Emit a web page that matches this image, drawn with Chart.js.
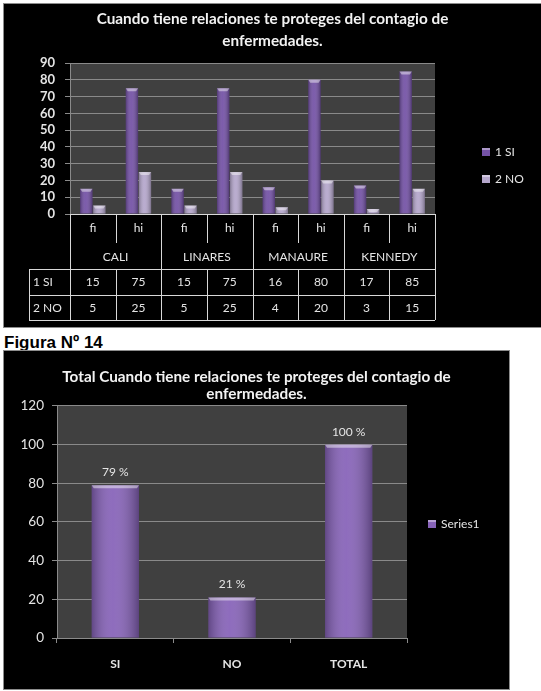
<!DOCTYPE html>
<html>
<head>
<meta charset="utf-8">
<script src="https://cdn.jsdelivr.net/npm/chart.js@4.4.0/dist/chart.umd.min.js"></script>
<style>
  body { margin: 0; background: #fff; width: 541px; height: 691px; position: relative; overflow: hidden; }
  .box { position: absolute; background: #000; border: 1px solid #8c8c8c; }
  #box1 { left: 3px; top: 3px; width: 537px; height: 323px; }
  #box2 { left: 3px; top: 350px; width: 505px; height: 338px; }
  canvas { display: block; }
  #fig { position: absolute; left: 4px; top: 334px; font: bold 17px/17px "Liberation Sans", Arial, sans-serif; color: #000; }
</style>
</head>
<body>
<div class="box" id="box1"><canvas id="chart1" width="537" height="323"></canvas></div>
<div id="fig">Figura Nº 14</div>
<div class="box" id="box2"><canvas id="chart2" width="505" height="338"></canvas></div>
<script>
// top chart: fi / hi per place
const groups = ['CALI', 'LINARES', 'MANAURE', 'KENNEDY'];
const measures = ['fi', 'hi'];
const siValues = [15, 75, 15, 75, 16, 80, 17, 85];
const noValues = [5, 25, 5, 25, 4, 20, 3, 15];
const seriesNames = ['1 SI', '2 NO'];

// bottom chart: totals
const totalLabels = ['SI', 'NO', 'TOTAL'];
const totalValues = [79, 21, 100];
const totalSeries = 'Series1';

const FONT = 'Lato, "Open Sans", sans-serif';
const TEXT = '#e4e4e4';
const GRID = '#8a8a8a';

// dark gray plot background
const plotBg = {
    id: 'plotBg',
    beforeDraw(chart) {
        const { ctx, chartArea: a } = chart;
        ctx.save();
        ctx.fillStyle = '#404040';
        ctx.fillRect(a.left, a.top, a.right - a.left, a.bottom - a.top);
        ctx.restore();
    }
};

// shading + light cap on each bar, like the office 3d look
const barShade = {
    id: 'barShade',
    afterDatasetsDraw(chart) {
        const ctx = chart.ctx;
        chart.data.datasets.forEach((ds, i) => {
            chart.getDatasetMeta(i).data.forEach(el => {
                const { x, y, base, width } = el.getProps(['x', 'y', 'base', 'width'], true);
                const l = x - width / 2;
                const g = ctx.createLinearGradient(l, 0, l + width, 0);
                g.addColorStop(0, 'rgba(0,0,0,0.28)');
                g.addColorStop(0.45, 'rgba(255,255,255,0.06)');
                g.addColorStop(1, 'rgba(0,0,0,0.32)');
                ctx.save();
                ctx.fillStyle = g;
                ctx.fillRect(l, y, width, base - y);
                ctx.fillStyle = 'rgba(255,255,255,0.45)';
                ctx.beginPath();
                ctx.moveTo(l, y);
                ctx.lineTo(l + width, y);
                ctx.lineTo(l + width - 2, y + 3);
                ctx.lineTo(l + 2, y + 3);
                ctx.closePath();
                ctx.fill();
                ctx.restore();
            });
        });
    }
};

function hline(ctx, x1, x2, y) {
    ctx.beginPath();
    ctx.moveTo(x1, Math.round(y) + 0.5);
    ctx.lineTo(x2, Math.round(y) + 0.5);
    ctx.stroke();
}
function vline(ctx, x, y1, y2) {
    ctx.beginPath();
    ctx.moveTo(Math.round(x) + 0.5, y1);
    ctx.lineTo(Math.round(x) + 0.5, y2);
    ctx.stroke();
}

// data table under the top chart
const dataTable = {
    id: 'dataTable',
    afterDraw(chart) {
        const { ctx, chartArea: a, scales: { x } } = chart;
        const n = siValues.length;
        const colW = x.getPixelForValue(1) - x.getPixelForValue(0);
        const edge = i => x.getPixelForValue(i) - colW / 2;
        const b = a.bottom;
        const r0 = b + 55, r1 = b + 81, r2 = b + 106;
        const left = 25;

        ctx.save();
        ctx.strokeStyle = '#d8d8d8';
        ctx.lineWidth = 1;
        hline(ctx, edge(0), edge(n), b);
        for (let i = 0; i <= n; i++) {
            if (i % measures.length === 0) {
                vline(ctx, edge(i), b, r2);
            } else {
                vline(ctx, edge(i), b, b + 29);
                vline(ctx, edge(i), r0, r2);
            }
        }
        [r0, r1, r2].forEach(y => hline(ctx, left, edge(n), y));
        vline(ctx, left, r0, r2);

        ctx.fillStyle = TEXT;
        ctx.font = '12px ' + FONT;
        ctx.textBaseline = 'middle';
        ctx.textAlign = 'center';
        for (let i = 0; i < n; i++) {
            const cx = x.getPixelForValue(i);
            ctx.fillText(measures[i % measures.length], cx, b + 14);
            ctx.fillText(String(siValues[i]), cx, b + 68);
            ctx.fillText(String(noValues[i]), cx, b + 94);
        }
        groups.forEach((g, j) => {
            const cx = (edge(j * 2) + edge(j * 2 + 2)) / 2;
            ctx.fillText(g, cx, b + 43);
        });
        ctx.textAlign = 'left';
        ctx.fillText(seriesNames[0], left + 4, b + 68);
        ctx.fillText(seriesNames[1], left + 4, b + 94);
        ctx.restore();
    }
};

// small legend on the right
function sideLegend(dx, yc, gap) {
    return {
        id: 'sideLegend',
        afterDraw(chart) {
            const { ctx, chartArea: a } = chart;
            ctx.save();
            ctx.font = '12px ' + FONT;
            ctx.textBaseline = 'middle';
            ctx.textAlign = 'left';
            chart.data.datasets.forEach((ds, i) => {
                const y = yc + i * gap;
                ctx.fillStyle = ds.backgroundColor;
                ctx.fillRect(a.right + dx, y - 4, 8, 8);
                ctx.fillStyle = 'rgba(255,255,255,0.4)';
                ctx.fillRect(a.right + dx, y - 4, 8, 2);
                ctx.fillStyle = TEXT;
                ctx.fillText(ds.label, a.right + dx + 13, y);
            });
            ctx.restore();
        }
    };
}

// empty right-hand scale that keeps room for the legend
function spacer(w) {
    return {
        position: 'right',
        ticks: { display: false },
        grid: { display: false },
        border: { display: false },
        afterFit(s) { s.width = w; }
    };
}

new Chart(document.getElementById('chart1'), {
    type: 'bar',
    data: {
        labels: groups.flatMap(g => measures.map(m => g + ' ' + m)),
        datasets: [
            { label: seriesNames[0], data: siValues, backgroundColor: '#7452a6' },
            { label: seriesNames[1], data: noValues, backgroundColor: '#b5a7cc' }
        ]
    },
    options: {
        responsive: false,
        animation: false,
        categoryPercentage: 0.57,
        barPercentage: 0.95,
        layout: { padding: 0 },
        plugins: {
            legend: { display: false },
            tooltip: { enabled: false },
            title: {
                display: true,
                text: ['Cuando tiene relaciones te proteges del contagio de', 'enfermedades.'],
                color: '#f2f2f2',
                font: { family: FONT, size: 15.3, weight: 'bold', lineHeight: 1.44 },
                padding: { top: 4, bottom: 11 }
            }
        },
        scales: {
            x: {
                ticks: { display: false },
                grid: { display: false },
                border: { display: false },
                afterFit(s) { s.height = 113; }
            },
            y: {
                min: 0,
                max: 90,
                ticks: { stepSize: 10, autoSkip: false, color: TEXT, padding: 10, font: { family: FONT, size: 13, weight: 'bold' } },
                grid: { color: GRID, tickLength: 5 },
                border: { color: GRID },
                afterFit(s) { s.width = 66; }
            },
            yr: spacer(106)
        }
    },
    plugins: [plotBg, barShade, dataTable, sideLegend(47, 148, 27)]
});

const valueLabels = {
    id: 'valueLabels',
    afterDatasetsDraw(chart) {
        const ctx = chart.ctx;
        ctx.save();
        ctx.font = '12px ' + FONT;
        ctx.fillStyle = TEXT;
        ctx.textAlign = 'center';
        ctx.textBaseline = 'middle';
        chart.getDatasetMeta(0).data.forEach((el, i) => {
            ctx.fillText(totalValues[i] + ' %', el.x, el.y - 13);
        });
        ctx.restore();
    }
};

new Chart(document.getElementById('chart2'), {
    type: 'bar',
    data: {
        labels: totalLabels,
        datasets: [{ label: totalSeries, data: totalValues, backgroundColor: '#8763b9' }]
    },
    options: {
        responsive: false,
        animation: false,
        categoryPercentage: 0.45,
        barPercentage: 0.9,
        layout: { padding: 0 },
        plugins: {
            legend: { display: false },
            tooltip: { enabled: false },
            title: {
                display: true,
                text: ['Total Cuando tiene relaciones te proteges del contagio de', 'enfermedades.'],
                color: '#f2f2f2',
                font: { family: FONT, size: 15.3, weight: 'bold', lineHeight: 1.11 },
                padding: { top: 17.5, bottom: 3.5 }
            }
        },
        scales: {
            x: {
                ticks: { color: TEXT, padding: 14, font: { family: FONT, size: 12, weight: 'bold' } },
                grid: { drawOnChartArea: false, color: GRID, tickLength: 5 },
                border: { color: GRID },
                afterFit(s) { s.height = 51; }
            },
            y: {
                min: 0,
                max: 120,
                ticks: { stepSize: 20, autoSkip: false, color: TEXT, padding: 8, font: { family: FONT, size: 13.5 } },
                grid: { color: GRID, tickLength: 5 },
                border: { color: GRID },
                afterFit(s) { s.width = 53; }
            },
            yr: spacer(102)
        }
    },
    plugins: [plotBg, barShade, valueLabels, sideLegend(21, 173, 0)]
});
</script>
</body>
</html>
